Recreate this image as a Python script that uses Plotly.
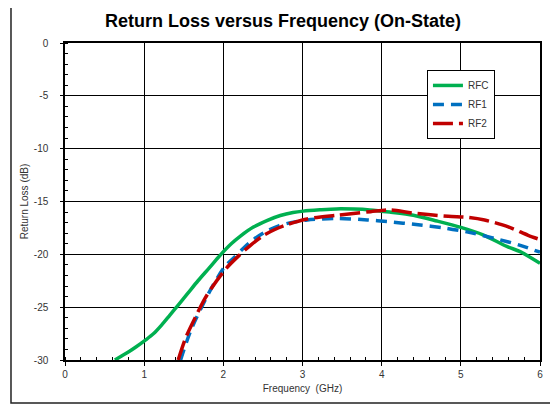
import plotly.graph_objects as go

# Data
rfc_f = [0.63, 0.72, 0.80, 0.90, 1.02, 1.12, 1.22, 1.32, 1.43, 1.55, 1.68, 1.82, 1.97, 2.10, 2.22, 2.38, 2.55, 2.72, 2.88, 3.01, 3.22, 3.43, 3.65, 3.85, 4.1, 4.4, 4.7, 5.0, 5.28, 5.58, 5.75, 6.0]
rfc_db = [-30, -29.6, -29.25, -28.75, -28.1, -27.5, -26.7, -25.8, -24.8, -23.7, -22.5, -21.3, -20.0, -19.0, -18.25, -17.42, -16.8, -16.32, -16.04, -15.91, -15.79, -15.7, -15.72, -15.8, -16.0, -16.3, -16.85, -17.45, -18.15, -19.25, -19.75, -20.85]

rf1_f = [1.46, 1.6, 1.85, 2.02, 2.13, 2.25, 2.38, 2.55, 2.7, 2.85, 3.06, 3.44, 3.82, 4.07, 4.46, 4.79, 5.09, 5.43, 5.73, 6.0]
rf1_db = [-30, -27.0, -23.2, -21.15, -20.35, -19.45, -18.6, -17.8, -17.3, -17.0, -16.75, -16.6, -16.75, -16.9, -17.2, -17.5, -17.9, -18.5, -19.1, -19.8]

rf2_f = [1.43, 1.53, 1.66, 1.77, 1.85, 2.04, 2.2, 2.35, 2.5, 2.65, 2.8, 3.06, 3.44, 3.86, 4.1, 4.4, 4.84, 5.09, 5.3, 5.6, 5.85, 6.0]
rf2_db = [-30, -27.8, -25.75, -24.15, -23.2, -21.3, -20.1, -19.1, -18.25, -17.65, -17.2, -16.65, -16.3, -15.96, -15.8, -16.1, -16.4, -16.5, -16.75, -17.4, -18.2, -18.6]

x_ticks = [0, 1, 2, 3, 4, 5, 6]
y_ticks = [0, -5, -10, -15, -20, -25, -30]

FONT = "Liberation Sans, Arial, sans-serif"

fig = go.Figure()
fig.add_trace(go.Scatter(x=rfc_f, y=rfc_db, name="RFC", mode="lines",
                         line=dict(color="#00b050", width=3.5, shape="spline", smoothing=0.8)))
fig.add_trace(go.Scatter(x=rf1_f, y=rf1_db, name="RF1", mode="lines",
                         line=dict(color="#0070c0", width=3.5, shape="spline", smoothing=0.8, dash="11px,7px")))
fig.add_trace(go.Scatter(x=rf2_f, y=rf2_db, name="RF2", mode="lines",
                         line=dict(color="#c00000", width=3.5, shape="spline", smoothing=0.8, dash="20px,6px")))

fig.update_layout(
    width=550, height=397,
    margin=dict(l=57, r=18, t=35, b=45),
    paper_bgcolor="white", plot_bgcolor="white",
    font=dict(family=FONT, size=10, color="#333333"),
    title=dict(text="<b>Return Loss versus Frequency (On-State)</b>",
               x=0.5, xanchor="center", y=0.967, yanchor="middle",
               font=dict(family=FONT, size=18, color="black")),
    legend=dict(x=0.762, y=0.915, xanchor="left", yanchor="top",
                bgcolor="white", bordercolor="black", borderwidth=1,
                font=dict(family=FONT, size=10, color="#333333"),
                tracegroupgap=0, itemwidth=30),
    xaxis=dict(range=[0, 6], tickvals=x_ticks, ticktext=[str(v) for v in x_ticks],
               showgrid=True, gridcolor="black", gridwidth=1,
               showline=True, linecolor="black", linewidth=1.5, mirror=True,
               ticks="outside", ticklen=4, tickcolor="black",
               minor=dict(dtick=0.2, ticks="inside", ticklen=3, tickcolor="black", showgrid=False),
               title=dict(text="Frequency  (GHz)", font=dict(size=10, color="#333333"), standoff=6),
               zeroline=False),
    yaxis=dict(range=[-30, 0], tickvals=y_ticks, ticktext=[str(v) for v in y_ticks],
               showgrid=True, gridcolor="black", gridwidth=1,
               showline=True, linecolor="black", linewidth=1.5, mirror=True,
               ticks="outside", ticklen=3, tickcolor="black", ticklabelstandoff=10,
               minor=dict(dtick=1, ticks="inside", ticklen=3, tickcolor="black", showgrid=False),
               title=dict(text="Return Loss (dB)", font=dict(size=10, color="#333333"), standoff=3),
               zeroline=False),
    shapes=[dict(type="rect", xref="paper", yref="paper",
                 x0=-0.1137, x1=1.046, y0=-0.1356, y1=1.129,
                 line=dict(color="#222222", width=1.5), fillcolor="rgba(0,0,0,0)", layer="below")],
)

fig.write_html("out.html")
